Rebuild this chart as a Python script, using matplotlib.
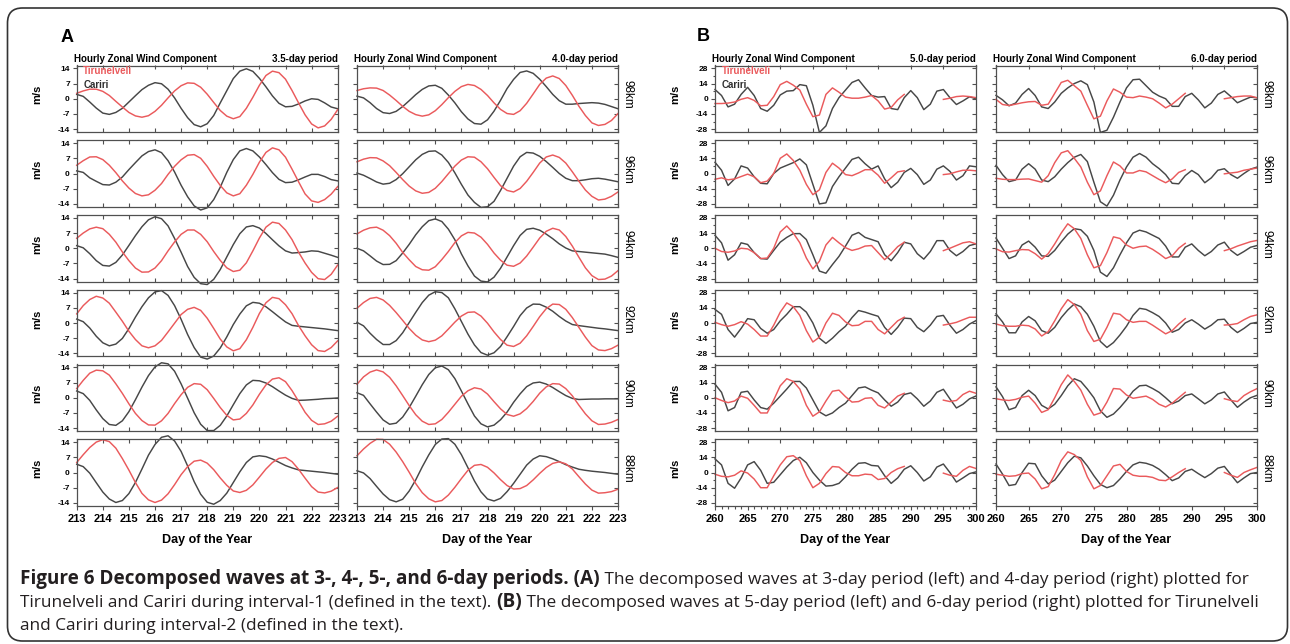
import numpy as np
import matplotlib
matplotlib.use('Agg')
import matplotlib.pyplot as plt
from matplotlib.ticker import MultipleLocator
from matplotlib.patches import FancyBboxPatch

N = np.nan

heights = ['98km', '96km', '94km', '92km', '90km', '88km']
days_a = np.arange(213, 223.001, 0.25)
days_b = np.arange(260, 301, 1)

# ---- panel A, 3.5-day period (rows 98 -> 88 km), every 6 h ----
tir_35 = [
    [2.5, 3.6, 4.4, 4.4, 3.4, 1.5, -1.2, -3.8, -6.3, -7.9, -8.5, -7.8, -5.8, -3.0, 0.4, 3.6, 6.0, 7.3, 7.1, 5.3,
     2.1, -1.7, -5.4, -8.0, -9.2, -8.2, -4.4, 0.7, 6.2, 10.7, 12.7, 12.0, 9.0, 3.8, -1.9, -7.4, -11.6, -13.4, -12.5, -9.5, -5.0],
    [3.8, 5.9, 7.6, 7.7, 6.4, 3.8, 0.4, -3.4, -6.7, -9.2, -10.3, -9.8, -7.7, -4.6, -0.4, 3.3, 6.3, 8.4, 8.7, 7.0,
     3.3, -1.3, -5.5, -8.9, -10.3, -9.3, -5.4, -0.4, 5.2, 9.7, 11.8, 10.9, 7.5, 2.0, -3.8, -9.4, -12.6, -13.3, -12.0, -9.5, -6.0],
    [4.6, 7.0, 8.9, 9.7, 9.0, 6.4, 2.8, -1.7, -5.7, -9.1, -11.0, -10.9, -9.1, -5.7, -1.2, 2.9, 6.4, 8.4, 8.4, 6.4,
     3.0, -1.5, -5.6, -9.0, -10.7, -10.1, -6.7, -1.2, 4.7, 9.7, 12.0, 11.4, 8.4, 4.0, -1.8, -6.8, -11.1, -14.0, -14.4, -12.0, -7.7],
    [4.2, 8.0, 10.8, 12.3, 11.5, 9.1, 5.0, 0.8, -3.8, -7.6, -10.5, -11.4, -10.5, -8.0, -4.1, -0.1, 3.9, 6.3, 7.2, 5.8,
     2.2, -2.5, -7.4, -11.0, -12.8, -11.8, -7.7, -2.0, 4.4, 9.3, 11.8, 11.2, 8.4, 4.3, -1.2, -5.9, -10.0, -12.7, -13.1, -11.3, -8.2],
    [4.2, 8.0, 11.3, 12.7, 12.4, 10.4, 6.4, 2.0, -2.8, -7.2, -10.5, -12.5, -12.6, -10.6, -7.2, -2.7, 1.4, 4.8, 6.5, 6.2,
     3.7, -0.3, -4.5, -8.1, -10.2, -9.8, -7.2, -3.3, 1.6, 5.9, 8.6, 9.2, 7.4, 3.3, -1.6, -6.7, -10.4, -12.3, -12.0, -10.8, -8.5],
    [4.6, 8.2, 11.5, 14.0, 15.1, 14.2, 11.2, 6.4, 1.1, -4.6, -9.6, -12.6, -13.8, -12.7, -9.8, -5.6, -1.0, 2.7, 5.2, 5.7,
     4.3, 1.3, -2.5, -5.9, -8.5, -9.2, -8.2, -5.7, -2.1, 1.6, 4.6, 6.5, 6.9, 5.0, 1.5, -2.6, -6.5, -9.0, -9.4, -8.6, -6.9],
]
car_35 = [
    [2.0, 1.1, -1.5, -4.3, -6.6, -7.2, -6.3, -4.4, -1.5, 1.4, 4.2, 6.2, 7.4, 6.9, 4.4, 0.4, -4.4, -8.7, -11.9, -12.9,
     -11.5, -7.7, -1.9, 3.7, 9.3, 12.7, 13.8, 12.6, 9.4, 5.5, 1.3, -2.1, -3.7, -3.5, -2.4, -1.0, 0.0, -0.3, -1.9, -3.8, -4.6],
    [1.2, 0.5, -2.0, -3.6, -5.1, -5.3, -4.0, -1.6, 1.8, 5.0, 8.1, 10.1, 10.9, 9.6, 5.9, 0.7, -5.4, -10.7, -14.9, -16.8,
     -15.8, -12.0, -6.3, 0.5, 6.4, 10.4, 11.5, 10.4, 7.6, 4.1, 0.4, -2.7, -4.2, -4.0, -2.9, -1.6, -0.4, -0.4, -1.4, -2.8, -3.4],
    [1.2, 0.2, -2.5, -5.7, -7.9, -8.2, -6.5, -3.1, 1.3, 5.8, 9.9, 13.1, 14.5, 13.6, 10.3, 4.5, -1.8, -8.4, -13.4, -16.3,
     -16.7, -14.3, -9.8, -4.0, 1.7, 6.7, 9.8, 10.4, 9.3, 6.8, 3.9, 1.1, -1.2, -2.2, -2.0, -1.7, -1.2, -1.4, -2.3, -3.2, -4.2],
    [1.8, 0.6, -2.3, -6.1, -9.1, -10.5, -9.7, -7.1, -2.6, 2.7, 7.5, 11.6, 14.3, 14.9, 12.7, 8.0, 1.7, -5.3, -11.3, -15.7,
     -16.6, -15.2, -11.5, -6.4, -0.7, 4.1, 7.9, 9.5, 9.1, 7.5, 5.2, 2.8, 0.5, -1.1, -1.5, -1.8, -2.1, -2.4, -2.7, -3.1, -3.5],
    [3.1, 1.9, -1.2, -5.6, -9.6, -12.3, -12.7, -10.6, -6.4, -0.9, 4.9, 10.2, 14.2, 16.1, 15.6, 12.2, 6.4, -0.2, -6.9, -12.2,
     -15.1, -15.1, -12.7, -8.4, -3.2, 1.9, 5.9, 8.0, 7.8, 6.8, 5.1, 3.1, 1.2, -0.3, -1.2, -1.1, -0.9, -0.7, -0.4, -0.3, -0.1],
    [3.8, 2.7, -0.3, -4.7, -9.0, -12.2, -13.8, -12.9, -9.7, -4.6, 1.6, 8.0, 12.9, 16.2, 16.9, 14.5, 9.7, 3.0, -4.2, -10.0,
     -13.7, -14.6, -12.9, -9.5, -4.6, 0.3, 4.6, 7.2, 7.7, 7.3, 6.2, 4.7, 3.2, 2.1, 1.2, 0.9, 0.6, 0.3, 0.0, -0.4, -0.8],
]

# ---- panel A, 4.0-day period ----
tir_40 = [
    [3.8, 4.6, 5.0, 4.9, 3.8, 1.7, -0.8, -3.5, -5.8, -7.3, -8.0, -7.4, -5.5, -2.7, 0.5, 3.4, 5.6, 6.6, 6.1, 4.3,
     1.5, -1.9, -4.9, -6.8, -7.2, -5.5, -2.1, 2.2, 6.6, 9.5, 10.5, 9.3, 6.1, 1.6, -3.4, -7.7, -11.1, -12.3, -11.8, -10.0, -6.8],
    [5.4, 6.6, 7.3, 7.2, 5.8, 3.6, 0.5, -2.8, -5.8, -8.0, -9.1, -8.7, -6.8, -3.7, -0.1, 3.4, 6.2, 7.7, 7.5, 5.4,
     2.2, -1.8, -5.6, -7.8, -8.5, -6.9, -3.6, 0.5, 4.8, 7.6, 8.5, 7.4, 4.8, 0.8, -3.5, -7.6, -10.5, -12.2, -11.8, -10.5, -8.5],
    [6.6, 8.3, 9.4, 9.7, 8.3, 5.8, 2.3, -1.9, -5.3, -8.4, -9.9, -10.1, -8.5, -5.2, -1.5, 2.6, 5.7, 7.3, 7.0, 5.1,
     1.8, -2.2, -5.5, -7.8, -8.3, -6.8, -3.6, 0.5, 4.7, 7.8, 9.2, 8.4, 5.4, 1.0, -4.1, -9.0, -12.6, -14.4, -14.2, -12.8, -10.3],
    [6.8, 9.4, 11.3, 11.8, 10.6, 8.1, 4.8, 1.2, -2.5, -5.6, -7.8, -8.6, -7.9, -5.9, -2.8, 0.4, 3.2, 4.9, 5.1, 3.2,
     -0.1, -4.1, -7.6, -10.2, -10.8, -9.3, -5.9, -1.6, 2.9, 6.6, 8.7, 8.5, 6.3, 2.5, -2.0, -6.5, -10.4, -12.4, -12.7, -11.8, -10.2],
    [6.2, 9.6, 11.8, 12.8, 11.9, 9.4, 5.5, 1.0, -3.6, -7.8, -10.8, -12.3, -12.0, -10.0, -6.7, -3.0, 0.7, 3.2, 4.6, 4.0,
     1.7, -1.8, -5.1, -7.7, -8.5, -7.4, -5.0, -1.7, 2.1, 5.0, 6.5, 6.3, 4.2, 0.9, -3.4, -7.4, -10.6, -12.3, -12.1, -11.3, -10.0],
    [7.7, 10.8, 13.4, 15.3, 15.2, 13.0, 9.4, 5.0, 0.1, -5.1, -9.3, -12.1, -13.5, -12.9, -10.4, -6.8, -2.8, 1.0, 3.3, 3.7,
     2.4, -0.2, -3.3, -6.0, -7.6, -7.4, -6.0, -3.4, -0.4, 2.3, 4.2, 4.9, 4.0, 1.6, -1.9, -5.3, -8.1, -9.5, -9.3, -8.8, -7.7],
]
car_40 = [
    [1.2, 0.4, -1.8, -4.5, -6.4, -6.8, -5.8, -3.6, -0.9, 1.9, 4.3, 5.9, 6.2, 4.8, 1.7, -1.9, -6.0, -9.3, -11.4, -11.7,
     -9.7, -5.7, -0.7, 4.7, 8.9, 12.1, 12.8, 11.7, 9.0, 5.6, 2.0, -0.9, -2.5, -2.5, -2.2, -2.0, -1.8, -2.0, -2.6, -3.6, -4.6],
    [0.2, -0.8, -2.3, -3.9, -4.9, -4.5, -2.8, -0.1, 3.1, 6.3, 8.8, 10.2, 10.4, 8.5, 5.1, 0.3, -5.0, -9.9, -13.3, -15.6,
     -15.3, -12.8, -7.8, -2.2, 3.4, 7.7, 9.7, 9.4, 7.9, 5.5, 2.8, 0.0, -2.2, -3.3, -3.3, -2.9, -2.4, -2.2, -2.6, -3.2, -3.8],
    [0.0, -1.2, -3.5, -5.9, -7.5, -7.4, -5.7, -2.2, 1.8, 6.2, 9.9, 12.7, 13.5, 12.3, 8.8, 3.9, -2.6, -8.1, -12.8, -15.1,
     -15.5, -13.3, -9.2, -4.0, 1.2, 5.9, 8.7, 9.2, 8.3, 6.5, 4.4, 2.0, 0.1, -1.2, -1.5, -1.8, -2.1, -2.4, -2.7, -3.4, -4.2],
    [0.3, -1.3, -4.7, -7.6, -9.9, -9.9, -8.1, -4.5, 0.2, 4.9, 9.4, 12.8, 14.4, 14.0, 11.6, 6.5, 0.7, -5.1, -10.1, -13.6,
     -14.8, -13.7, -10.8, -6.3, -1.6, 3.4, 6.9, 8.7, 8.6, 7.3, 5.4, 3.0, 0.9, -0.7, -1.2, -1.6, -2.0, -2.4, -2.7, -3.1, -3.5],
    [2.3, 1.1, -2.8, -6.6, -10.2, -12.2, -11.7, -8.9, -4.5, 0.7, 6.0, 10.7, 13.8, 14.6, 12.9, 8.8, 3.1, -2.8, -8.4, -12.0,
     -13.4, -12.6, -10.1, -6.6, -2.1, 1.8, 5.1, 6.8, 7.2, 6.3, 4.7, 2.8, 1.0, -0.3, -0.8, -0.7, -0.6, -0.6, -0.5, -0.5, -0.5],
    [0.8, -0.2, -2.8, -6.4, -9.9, -12.5, -13.5, -12.3, -8.5, -3.4, 2.6, 8.1, 12.9, 15.4, 15.6, 13.0, 8.2, 2.2, -3.9, -8.9,
     -12.2, -13.1, -11.9, -8.8, -5.0, -0.8, 3.4, 6.2, 7.7, 7.3, 6.3, 5.0, 3.6, 2.5, 1.5, 1.0, 0.6, 0.3, 0.0, -0.4, -0.8],
]

# ---- panel B, 5.0-day period, daily ----
tir_50 = [
    [-4.4, -4.4, -4, -3, -0.5, 1, -1.5, -6.5, -6, 2, 13, 16, 12.5, 8, -5, -16.5, -15, 4, 10, 6,
     1.5, 0.5, 0.5, 1.5, 3, -2, -9.5, -8, -1, 4, N, N, N, N, N, -0.6, 0.5, 2, 2.5, 2, 1],
    [-5.3, -4, -5.8, -5, -2.8, -0.6, -3, -8.5, -7, 0, 14, 18, 12, 3, -10, -19.5, -15, 1, 9.5, 5,
     -1, -2, 0.5, 3.5, 3.5, -1.5, -9, -4, 1.5, 2.5, N, N, N, N, N, -1, -0.3, 1.5, 3, 3, 2.5],
    [0, -3, -3.7, -2.5, 0, -0.6, -4, -9.5, -9, 0, 15, 20.5, 14, 5, -9, -19, -12, 3, 10, 5,
     0.5, -2, -0.5, 2, 2.5, -4, -10.5, -5, 1.5, 5.5, N, N, N, N, N, -2.2, 0, 2.5, 5, 6, 4],
    [0.6, -1.5, -3, -1.5, 1.2, -1, -6, -12, -12, -2, 10, 18.5, 15, 7, -7, -17.5, -13, 0, 9, 7,
     1, -2.5, -2, 1.5, 1.5, -6, -10, -4, 2, 5.3, N, N, N, N, N, -1.9, -0.8, 0.6, 3, 5.3, 5.3],
    [0, -2.5, -4.5, -3, 1.5, -0.5, -7, -14, -14, -2, 11, 17.5, 15, 8, -7, -17, -13, -3, 6, 7,
     1, -4, -3.5, -0.5, 0, -7, -9.4, -4, 1.5, 4.1, N, N, N, N, N, -2.2, -3.5, -2.5, 3, 6, 4.1],
    [-1.6, -3.5, -4, -2.5, 1.5, -0.5, -6, -14, -14, -3, 7, 14.5, 15.5, 11, -3, -14, -10, -1, 5.5, 5,
     0, -3, -3, -1.5, -2, -6.5, -5.5, 0, 3.5, 5.6, N, N, N, N, N, -0.6, -2.5, -3.5, 2, 5.6, 3.7],
]
car_50 = [
    [8.5, 3, -7.5, -5, 4, 10.5, 3, -9, -11.5, -6, 3.5, 7, 7.5, 13, 12, -6, -31, -25, -9, 1,
     8, 15, 17.5, 10, 3, 1.5, 2, -9, -10, 1, 7.5, 1, -10, -5, 7, 8.5, 1, -5.3, -2, 1.8, 0],
    [10.3, 3, -11, -5, 7, 5, -3, -9, -9.5, 0, 5, 7.5, 10, 13.4, 8, -10, -28, -27, -12, -3,
     5, 13, 15, 9, 4, 7, -5, -13, -8, 1, 4.7, -1, -10, -6, 4, 7, 2, -6, -2, 7, 6.2],
    [11.9, 5, -11, -6, 5, 3.5, -4, -9.5, -10, -2, 5.6, 10, 13.4, 13.5, 8, -6, -21, -23, -15, -7.5,
     2, 12, 14.5, 10, 8, 6, -6, -11.5, -4, 5.5, 4, -5, -10, -3, 7, 7, -2, -6.9, -3, 2.5, 4],
    [12.5, 8, -6, -13, -5, 4, 3, -5, -9.4, -6, 2, 8, 15, 15, 10, 0, -14, -18.8, -14, -8,
     -3, 5, 11.5, 10, 8, 6.2, -4, -10.5, -4, 4.5, 4, -4, -8, -2, 6, 7, -2, -9.4, -6, -1, 2.2],
    [12.5, 5, -12, -9, 5, 6, -2, -9, -10.5, -5, 1.5, 8, 15, 15, 9, -2, -13, -16.6, -14, -9,
     -5, 2, 9, 10, 7, 4.5, -2, -7.8, -4, 3, 4.5, -1, -7.8, -3, 5, 7.8, -1, -9.4, -6, -1, 1.6],
    [12.5, 7, -10, -14.5, -5, 7, 10, 2, -10, -9, -2, 5, 11, 14, 9, 0, -7, -12.5, -12, -10,
     -4, 3, 8.5, 9, 6.5, 6, -3, -10, -5, 3, 6.2, 0, -7.8, -4, 5, 7.8, 0, -8.8, -5, -1, 0.6],
]

# ---- panel B, 6.0-day period ----
tir_60 = [
    [-0.6, -5.3, -6.2, -5, -3.7, -2.8, -2.5, -6, -5, 5, 15, 17, 12, 7, -6, -18.5, -16, -2, 9, 6,
     1.5, 1, 2.5, 1.5, 0, -4, -8.4, -5, 0, 5, N, N, N, N, N, 0, 1, 2, 2.5, 2.5, 0.9],
    [-4.4, -5.3, -5.6, -5.6, -5.2, -5, -6.5, -8, -2, 10, 19, 21, 14, 6, -8, -19.5, -16, -2, 10.6, 7,
     0.5, 0.5, 2.8, 1.5, -2, -5.5, -8.5, -5, 1, 3.5, N, N, N, N, N, -0.3, 0.5, 1.2, 3, 4, 5],
    [-0.6, -3.2, -3.5, -2.2, -1.2, -1.5, -5, -10, -5, 4, 14, 22.5, 18, 9, -6, -18, -16, -4, 10.5, 9,
     3, 0, 1.5, 2, -1, -5, -9.5, -7, 0, 4.5, N, N, N, N, N, -2.2, -0.5, 2, 4, 6, 7.2],
    [-0.9, -2.5, -3, -3, -2, -2.5, -5.5, -12, -8, 2, 13, 21.5, 17, 8, -7, -17, -15, -4, 9, 8,
     3, 0.6, 1.5, 1.5, -2, -6, -10, -7, -1, 4, N, N, N, N, N, -1.9, -1.5, -0.5, 3, 6, 7.5],
    [-0.9, -2, -2.5, -1.5, 0.5, 1.5, -5, -13.5, -11, 0, 12, 21, 15, 7, -6, -16, -14, -4, 8.5, 8,
     2.5, -0.5, 0.5, 1.5, -1.5, -6, -8.5, -5, 0, 5, N, N, N, N, N, -0.9, -2.5, -3.5, 2, 5.5, 8.4],
    [-1.6, -2.5, -3.5, -3, -1, -0.5, -6, -15, -13, -2, 11, 19, 16.5, 11, -4, -15, -12, -3, 6, 7.5,
     1, -2.5, -3.5, -3.5, -4.5, -7, -7.5, -4, 0, 3.5, N, N, N, N, N, 0, -2.5, -4.5, 0, 2.5, 4.7],
]
car_60 = [
    [3.1, -1, -6.5, -4, 4, 9.4, 3, -7.5, -9, -3, 5, 10, 14, 16.5, 13, -3, -31, -29, -17, -3,
     10, 17.5, 18, 12, 6, 2.5, 0, -7, -7, 2, 5, -1, -8.4, -4, 4, 7.2, 2, -3.7, -1, 1.5, 0.9],
    [7.5, -1, -7.5, -6, 4, 9, 4, -6, -7.5, -3, 4, 10, 15, 17.5, 11, -8, -26, -30, -20, -6,
     6, 15, 18.4, 15, 9, 4.5, -1, -9, -9.5, -2, 2.8, -1, -8.5, -4, 3, 4.4, -1, -4.4, 0, 4, 5.9],
    [9.4, 0, -9.5, -7, 3, 6.6, 1, -7, -7.5, -2, 6, 13, 18, 17, 11, -2, -22, -26, -18, -6,
     5, 14, 16.6, 15, 12, 9, 2, -8, -8, 1, 4, -2, -6.9, -3, 3, 5.6, -2, -6.5, -3, 0.9, 2.5],
    [8.4, 1, -9, -9, 1, 6, 2, -7, -9.4, -4, 5, 12, 17.5, 15, 8, -3, -17, -22.5, -18, -11,
     -3, 7, 13.5, 12.5, 9.5, 6, 0, -8.5, -6, 0, 3, -1, -5.6, -2, 3, 3.5, -4, -8.8, -5, -0.5, 0.6],
    [10, 1, -11, -9, 2, 6.9, 2, -7, -10.3, -6, 2, 11, 17.5, 15, 8, 0, -12, -18, -15, -9,
     -2, 6, 11, 11.5, 8.5, 5, 0, -5.5, -3, 2, 3.5, -1, -5.6, -2, 3.5, 5.3, -2, -8.8, -4, 0, 2.2],
    [7.8, -1.5, -12, -11, 0, 8.5, 8, -3, -10.5, -7, 1, 9, 15, 13.5, 6, -3, -11, -14, -12, -6,
     1, 7, 9.4, 8.5, 6.5, 3, -2, -7.5, -5, 1, 3, -1, -4.7, -1, 4, 5.6, -2, -9.4, -5, -1, 0],
]

RED = '#ea5a5c'
BLK = '#474747'
FRAME = '#505050'
plt.rcParams['font.family'] = ['Liberation Sans', 'DejaVu Sans']

W, H = 1290, 644
fig = plt.figure(figsize=(W / 100, H / 100), dpi=100)


def box(left, top, w, h):
    return [left / W, 1 - (top + h) / H, w / W, h / H]


col_left = [76.7, 357, 715, 996]
col_w = 261
row_top0, row_step, row_h = 65.5, 74.75, 66.5

columns = [
    (days_a, tir_35, car_35, '3.5-day period', 'A'),
    (days_a, tir_40, car_40, '4.0-day period', 'A'),
    (days_b, tir_50, car_50, '5.0-day period', 'B'),
    (days_b, tir_60, car_60, '6.0-day period', 'B'),
]

for c, (days, tir, car, period, part) in enumerate(columns):
    for r in range(6):
        ax = fig.add_axes(box(col_left[c], row_top0 + r * row_step, col_w, row_h))
        ax.plot(days, car[r], color=BLK, lw=1.05, clip_on=False, solid_joinstyle='round')
        ax.plot(days, tir[r], color=RED, lw=1.05, clip_on=False, solid_joinstyle='round')
        for s in ax.spines.values():
            s.set_color(FRAME)
            s.set_linewidth(0.9)

        if part == 'A':
            ax.set_xlim(213, 223)
            ax.set_ylim(-15.3, 15.3)
            xt = list(range(213, 224))
            yt = [-14, -7, 0, 7, 14]
        else:
            ax.set_xlim(260, 300)
            ax.set_ylim(-30.6, 30.6)
            xt = list(range(260, 301, 5))
            yt = [-28, -14, 0, 14, 28]
            ax.yaxis.set_minor_locator(MultipleLocator(7))
        ax.set_xticks(xt)
        ax.set_yticks(yt)

        bottom = (r == 5)
        ax.tick_params(axis='y', which='both', direction='out', length=3,
                       width=0.8, color=FRAME, pad=2, labelsize=6)
        ax.tick_params(axis='y', which='minor', length=1.8)
        ax.tick_params(axis='x', which='both', direction='out' if bottom else 'in',
                       length=3, width=0.8, color=FRAME, pad=3, labelsize=8)
        ax.tick_params(axis='x', which='minor', length=1.8)
        if c == 2 and bottom:
            ax.xaxis.set_minor_locator(MultipleLocator(1))

        top = ax.secondary_xaxis('top')
        top.set_xticks(xt)
        top.tick_params(direction='in', length=3, width=0.8, color=FRAME, labeltop=False)
        top.spines['top'].set_visible(False)
        right = ax.secondary_yaxis('right')
        right.set_yticks(yt)
        right.tick_params(direction='in', length=3, width=0.8, color=FRAME, labelright=False)
        right.spines['right'].set_visible(False)

        if c in (0, 2):
            ax.set_yticklabels([str(v) for v in yt], fontweight='bold')
            ax.text(-0.152, 0.56, 'm/s', transform=ax.transAxes, rotation=90,
                    ha='center', va='center', fontsize=8, fontweight='bold')
        else:
            ax.set_yticklabels([])
            ax.text(1.012, 0.56, heights[r], transform=ax.transAxes, rotation=-90,
                    ha='left', va='center', fontsize=8.5)
        if bottom:
            ax.set_xticklabels([str(v) for v in xt], fontweight='bold')
            ax.text(0.5, -0.52, 'Day of the Year', transform=ax.transAxes,
                    ha='center', va='center', fontsize=9, fontweight='bold')
        else:
            ax.set_xticklabels([])

        if r == 0:
            ax.text(-0.01, 1.02, 'Hourly Zonal Wind Component', transform=ax.transAxes,
                    ha='left', va='bottom', fontsize=7, fontweight='bold')
            ax.text(1.0, 1.02, period, transform=ax.transAxes,
                    ha='right', va='bottom', fontsize=7, fontweight='bold')
            if c in (0, 2):
                ax.text(0.025, 0.91, 'Tirunelveli', transform=ax.transAxes, color=RED,
                        ha='left', va='center', fontsize=7, fontweight='bold')
                ax.text(0.025, 0.71, 'Cariri', transform=ax.transAxes, color='#303030',
                        ha='left', va='center', fontsize=7, fontweight='bold')

fig.text(67 / W, 1 - 37.5 / H, 'A', fontsize=13, fontweight='bold', ha='center', va='center')
fig.text(703.5 / W, 1 - 36.5 / H, 'B', fontsize=13, fontweight='bold', ha='center', va='center')

# caption with mixed bold / regular runs
renderer = fig.canvas.get_renderer()
cap_size = {'bold': 13.6, 'normal': 12.4}
cap_lines = [
    (584, [('Figure 6 Decomposed waves at 3-, 4-, 5-, and 6-day periods. (A)', 'bold'),
           (' The decomposed waves at 3-day period (left) and 4-day period (right) plotted for', 'normal')]),
    (607, [('Tirunelveli and Cariri during interval-1 (defined in the text). ', 'normal'),
           ('(B)', 'bold'),
           (' The decomposed waves at 5-day period (left) and 6-day period (right) plotted for Tirunelveli', 'normal')]),
    (630, [('and Cariri during interval-2 (defined in the text).', 'normal')]),
]
for base, runs in cap_lines:
    x = 20.0
    for txt, weight in runs:
        t = fig.text(x / W, 1 - base / H, txt, fontsize=cap_size[weight], fontweight=weight,
                     family=['Open Sans', 'DejaVu Sans'], ha='left', va='baseline', color='#231f20')
        x += t.get_window_extent(renderer=renderer).width

frame = FancyBboxPatch((0.075, 0.03), 12.8, 6.33, boxstyle='round,pad=0,rounding_size=0.15',
                       transform=fig.dpi_scale_trans, fill=False, edgecolor='#333333', lw=1.2)
fig.patches.append(frame)

fig.savefig('out.png', dpi=100)
